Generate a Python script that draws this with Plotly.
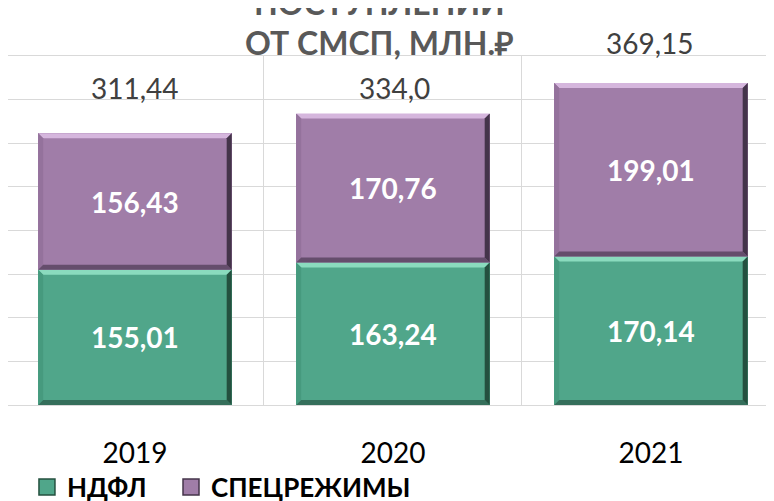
import plotly.graph_objects as go

years = ["2019", "2020", "2021"]
ndfl = [155.01, 163.24, 170.14]
spec = [156.43, 170.76, 199.01]
totals = ["311,44", "334,0", "369,15"]
series_names = ["НДФЛ", "СПЕЦРЕЖИМЫ"]
title_lines = ["ПОСТУПЛЕНИЙ", "ОТ СМСП, МЛН.₽"]

FONT = "Lato"
GREEN = "#50A68A"
PURPLE = "#A07DA8"
# bevel tones: (top, left, right, bottom)
GREEN_BEVEL = ("#8ADBBE", "#469A7E", "#24503F", "#356F5B")
PURPLE_BEVEL = ("#D5B6DD", "#94729C", "#44344A", "#654D6C")

BAR_W = 0.75
PX_X = 258.0          # pixels per category
PX_Y = 349.0 / 400.0  # pixels per y unit
BEV = 5.0             # bevel thickness in px


def fmt(v):
    return f"{v:.2f}".replace(".", ",")


fig = go.Figure()
fig.add_trace(go.Bar(
    x=years, y=ndfl, name=series_names[0], showlegend=False,
    marker=dict(color=GREEN, line=dict(width=0)), width=BAR_W,
    text=[fmt(v) for v in ndfl], textposition="inside", insidetextanchor="middle",
    textangle=0, textfont=dict(family=FONT, size=28, color="white", weight="bold"),
))
fig.add_trace(go.Bar(
    x=years, y=spec, name=series_names[1], showlegend=False,
    marker=dict(color=PURPLE, line=dict(width=0)), width=BAR_W,
    text=[fmt(v) for v in spec], textposition="inside", insidetextanchor="middle",
    textangle=0, textfont=dict(family=FONT, size=28, color="white", weight="bold"),
))
# legend keys (larger square swatches like the reference)
for name, col, bev, lg in ((series_names[0], GREEN, GREEN_BEVEL, "legend"),
                           (series_names[1], PURPLE, PURPLE_BEVEL, "legend2")):
    fig.add_trace(go.Scatter(
        x=[None], y=[None], mode="markers", name=name, legend=lg,
        marker=dict(symbol="square", size=16, color=col,
                    line=dict(color=bev[2], width=1.5)),
    ))

# bevel edges derived from the stacked data
dx = BEV / PX_X
dy = BEV / PX_Y
for series, base_series, tones in ((ndfl, [0, 0, 0], GREEN_BEVEL),
                                   (spec, ndfl, PURPLE_BEVEL)):
    for i, (v, b) in enumerate(zip(series, base_series)):
        x0, x1 = i - BAR_W / 2, i + BAR_W / 2
        y0, y1 = b, b + v
        top, left, right, bottom = tones
        polys = [
            (top, [(x0, y1), (x1, y1), (x1 - dx, y1 - dy), (x0 + dx, y1 - dy)]),
            (left, [(x0, y0), (x0, y1), (x0 + dx, y1 - dy), (x0 + dx, y0 + dy)]),
            (bottom, [(x0, y0), (x1, y0), (x1 - dx, y0 + dy), (x0 + dx, y0 + dy)]),
            (right, [(x1, y0), (x1, y1), (x1 - dx, y1 - dy), (x1 - dx, y0 + dy)]),
        ]
        for col, pts in polys:
            path = "M " + " L ".join(f"{px},{py}" for px, py in pts) + " Z"
            fig.add_shape(type="path", path=path, xref="x", yref="y",
                          fillcolor=col, line=dict(width=0), layer="above")

# total labels (positions tuned to reference placement, in y-axis units)
label_y = [363, 363, 415]
label_dx = [0, 2, -1]
for i, t in enumerate(totals):
    fig.add_annotation(x=i, y=label_y[i] / 400, xref="x", yref="paper", text=t,
                       showarrow=False, xshift=label_dx[i], yanchor="middle",
                       font=dict(family=FONT, size=28, color="#404040"))

# title (top line cut by the page edge as in the reference)
title_y = [1.0914, 0.9785]
for ln, ty in zip(title_lines, title_y):
    fig.add_annotation(x=0.4806, y=ty, xref="paper", yref="paper", text=ln,
                       showarrow=False, yanchor="bottom", xanchor="center",
                       font=dict(family=FONT, size=32, color="#595959", weight="bold"))

legend_font = dict(family=FONT, size=26, color="black", weight="bold")
fig.update_layout(
    width=774, height=501,
    margin=dict(l=0, r=0, t=48, b=104, autoexpand=False),
    paper_bgcolor="white", plot_bgcolor="white",
    barmode="stack",
    showlegend=True,
    legend=dict(orientation="h", x=0.0245, y=-0.235, xanchor="left", yanchor="middle",
                font=legend_font, bgcolor="rgba(0,0,0,0)"),
    legend2=dict(orientation="h", x=0.2106, y=-0.235, xanchor="left", yanchor="middle",
                 font=legend_font, bgcolor="rgba(0,0,0,0)"),
    xaxis=dict(type="category", range=[-0.492, 2.508], tickson="boundaries",
               showgrid=True, gridcolor="#D9D9D9", gridwidth=1,
               ticks="", ticklabelstandoff=23,
               tickfont=dict(family=FONT, size=28, color="black"),
               showline=True, mirror=True, linecolor="#D9D9D9", linewidth=1,
               zeroline=False),
    yaxis=dict(range=[0, 400], dtick=50, showgrid=True, gridcolor="#D9D9D9",
               showticklabels=False, zeroline=False,
               showline=True, linecolor="#D9D9D9", linewidth=1),
)

fig.write_html("out.html")
